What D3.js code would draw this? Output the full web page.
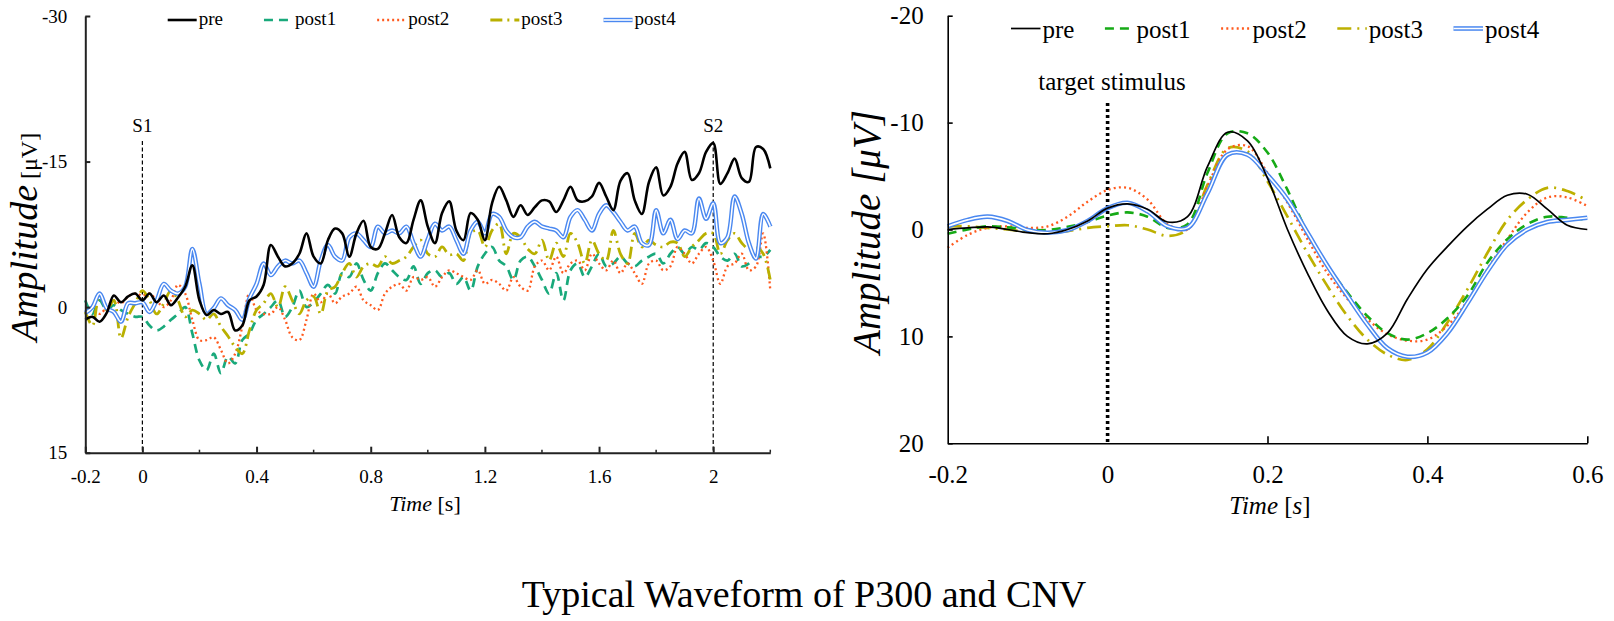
<!DOCTYPE html>
<html><head><meta charset="utf-8">
<script src="https://cdn.jsdelivr.net/npm/d3@7"></script>
<style>
body{margin:0;background:#fff}
svg{display:block}
text{font-family:"Liberation Serif","Times New Roman",serif;fill:#000}
</style>
</head><body>
<svg id="c" width="1614" height="621"></svg>
<script>
// ---------------- data ----------------
const seriesNames = ["pre","post1","post2","post3","post4"];

// CNV (left panel), time in s, amplitude in µV (negative up)
const cnvTime = [-0.2,-0.175,-0.15,-0.125,-0.1,-0.075,-0.05,-0.025,0,0.025,0.05,0.075,0.1,0.125,0.15,0.175,0.2,0.225,0.25,0.275,0.3,0.325,0.35,0.375,0.4,0.425,0.45,0.475,0.5,0.525,0.55,0.575,0.6,0.625,0.65,0.675,0.7,0.725,0.75,0.775,0.8,0.825,0.85,0.875,0.9,0.925,0.95,0.975,1.0,1.025,1.05,1.075,1.1,1.125,1.15,1.175,1.2,1.225,1.25,1.275,1.3,1.325,1.35,1.375,1.4,1.425,1.45,1.475,1.5,1.525,1.55,1.575,1.6,1.625,1.65,1.675,1.7,1.725,1.75,1.775,1.8,1.825,1.85,1.875,1.9,1.925,1.95,1.975,2.0,2.025,2.05,2.075,2.1,2.125,2.15,2.175,2.2];
const cnvPre = [1.3,1,1.5,0.6,-1.2,-0.5,-1.1,-1.4,-0.7,-1.4,
 -0.5,-1.2,-0.2,-1,-2.1,-4.3,-0.7,0.8,0.3,0.7,
 0.5,2.4,1.9,-0.7,-1.1,-2.3,-6.4,-5.2,-4.2,-4.5,
 -5.5,-7.6,-5.2,-4.5,-6.9,-8.1,-7.6,-5.2,-7.6,-8.9,
 -6.2,-6,-7.6,-9.5,-7.2,-6.6,-9,-11,-8.3,-6.6,
 -9.7,-10.9,-7.9,-6.9,-9.7,-9,-6.9,-10.7,-12.4,-11,
 -9.3,-10.5,-9.5,-10.3,-11,-10.9,-9.8,-11,-12.4,-11,
 -10.9,-11.4,-12.8,-11.4,-10,-13,-13.8,-11,-9.6,-12.9,
 -14.4,-11.5,-12.4,-14.8,-16,-13.1,-13.8,-16,-16.9,-12.7,
 -13.8,-15.3,-13.3,-12.9,-16.5,-16.3,-14.3];
const cnvPost1 = [-0.7,0.7,-0.7,0.3,-0.2,0.3,0.7,1,1,1.9,
 2.4,2,1.3,0.7,0,2.7,5.5,6.5,4.8,6.8,
 5.1,5.8,3.4,2.7,1.3,0.7,0,-0.7,1,0,
 -1.7,0,-0.5,-1.4,-2.3,-1.4,-3.5,-3.1,-4.5,-2.8,
 -1.7,-3.5,-4.5,-3.8,-3.1,-2.8,-4.2,-2.4,-3.5,-3.8,
 -3.1,-3.5,-2.4,-3.1,-1.7,-4.2,-5.5,-6.2,-4.8,-4.2,
 -2.8,-4.8,-5.2,-4.2,-2.8,-1.4,-3.5,-0.7,-3.8,-4.5,
 -3.1,-4.2,-5.5,-4.2,-4.5,-5.2,-4.5,-4.2,-4.8,-5.2,
 -5.5,-4.5,-5.5,-6.2,-5.5,-6.2,-5.9,-6.6,-6.2,-5.2,
 -4.8,-5.5,-4.2,-4.5,-5.2,-5.2,-5.9];
const cnvPost2 = [0,0.3,0.7,0,-0.7,-0.4,-1.1,-1.4,-1.2,-1.4,
 -0.7,0,-0.7,-2.3,-1.4,1.3,3.4,3.4,3.1,4.4,
 5.8,4.8,2,-1.4,0.3,0.7,0.7,0,1.3,3.1,
 3.4,1.3,-1.4,-0.5,-1.4,-0.4,-1.1,-1.4,-2.1,-0.7,
 -0.2,0.3,-1.4,-2.1,-2.4,-1.7,-3.1,-2.8,-3.1,-2.1,
 -3.1,-3.8,-3.5,-3.1,-2.8,-3.8,-2.4,-2.8,-2.4,-1.7,
 -3.1,-2.1,-1.7,-4.2,-4.8,-3.8,-5.2,-3.5,-4.5,-4.8,
 -3.8,-5.5,-4.5,-3.8,-4.8,-3.5,-4.5,-3.5,-2.4,-4.5,
 -4.8,-3.8,-4.2,-6.2,-5.5,-4.5,-5.5,-6.2,-4.8,-2.4,
 -4.2,-4.5,-5.5,-3.8,-4.2,-7.6,-1.7];
const cnvPost3 = [0.5,1.9,-1.4,0.3,-0.7,3.2,1,-0.4,-1.7,-0.7,
 0.7,-0.4,-1.7,-0.7,1,0.3,0.7,1.3,0.7,2,
 3,4.1,4.8,2.4,0.3,-0.4,-1.4,0,-2.1,-0.7,
 0.7,-0.7,-1.1,0.7,-1.7,-2.1,-3.5,-4.5,-3.1,-4.2,
 -4.5,-4.2,-5.2,-4.5,-4.8,-5.2,-6.2,-6.9,-5.5,-5.2,
 -6.2,-5.4,-5.5,-4.8,-7.6,-7.9,-6.2,-7.9,-8.6,-5.5,
 -7.6,-7.2,-6,-5.5,-6.9,-4.8,-6.6,-5.2,-7.6,-6.6,
 -4.5,-6.9,-5.5,-4.8,-7.9,-5.5,-4.5,-7.6,-6.2,-6.9,
 -6.4,-6.2,-6.7,-6.6,-5.2,-6.2,-6.9,-7.6,-7.6,-5.5,
 -6.9,-7.6,-6.6,-6,-6.2,-5.5,-2.8];
const cnvPost4 = [0.6,0,-1.4,0.1,0.5,1.5,-0.4,-0.4,-0.5,0.5,
 -0.7,-2.4,-1.7,-1.4,-2.1,-6,-2.4,0.7,0.1,-0.9,
 -0.2,0.3,1.3,-0.9,-2.4,-4.5,-3.3,-4.2,-4.8,-4.5,
 -4.8,-3.5,-2.1,-4.8,-6.4,-5.2,-4.8,-7.2,-7.6,-6.9,
 -6.2,-8.3,-7.6,-7.9,-7.6,-8.3,-6.6,-5.2,-7,-8.6,
 -7.9,-8.3,-6.9,-5.5,-7.9,-8.8,-7.6,-9.6,-9.3,-7.9,
 -7.2,-7.2,-8.3,-8.8,-8.3,-8.1,-7.9,-7.2,-9.3,-10,
 -9,-7.9,-9.6,-10.5,-9.8,-8.8,-7.9,-8.3,-6.6,-6.4,
 -10,-7.6,-9,-7,-7.9,-7.6,-11.2,-9.1,-10.7,-6.6,
 -7.2,-11.4,-9.6,-6.6,-5,-9.6,-8.3];

// P300 (right panel)
const p300Time = [-0.2,-0.175,-0.15,-0.125,-0.1,-0.075,-0.05,-0.025,0,0.025,0.05,0.075,0.1,0.125,0.15,0.175,0.2,0.225,0.25,0.275,0.3,0.325,0.35,0.375,0.4,0.425,0.45,0.475,0.5,0.525,0.55,0.575,0.6];
const p300Pre   = [0,-0.15,-0.25,0,0.3,0.4,0,-0.8,-2,-2.4,-1.9,-0.7,-1.2,-5.9,-9.1,-8.3,-4.8,0,4.1,7.6,10,10.7,9.7,6.5,3.7,1.6,-0.3,-1.9,-3.2,-3.3,-1.9,-0.4,0];
const p300Post1 = [0.4,0,-0.3,-0.2,0,0.05,-0.25,-0.7,-1.3,-1.6,-1.2,-0.15,-0.5,-5.3,-9,-9,-7.2,-3.7,0.3,3.4,5.9,8.1,9.7,10.3,9.7,8.3,6.2,3.1,0.9,-0.5,-1.2,-1.1,-0.9];
const p300Post2 = [1.7,0.5,-0.15,-0.3,-0.15,-0.3,-1.2,-2.6,-3.7,-3.9,-2.8,-0.5,0,-4.1,-7.5,-7.8,-5.3,-2.5,0.9,4.1,6.5,8.4,9.8,10.4,10.3,9,6.7,3.7,0.9,-1.6,-3,-3,-2.2];
const p300Post3 = [-0.3,-0.3,-0.15,0,0.2,0.3,0.15,-0.15,-0.3,-0.4,0,0.6,0,-4.2,-7.6,-7.3,-4.5,-1.2,2.2,5.3,8.1,10.3,11.7,12.2,11.2,8.7,5.6,2.2,-0.9,-2.8,-3.9,-3.6,-2.7];
const p300Post4 = [-0.3,-0.9,-1.2,-0.8,0.05,0.3,0.05,-0.8,-2,-2.5,-1.7,-0.3,-0.15,-3.4,-7,-7,-5.1,-2.8,0.3,3.4,6.2,8.9,11.1,11.9,11.5,9.7,6.9,3.9,1.4,0,-0.7,-0.9,-1.1];

const cnvXTicks = [-0.2,0,0.4,0.8,1.2,1.6,2];
const cnvXMinor = [0.2,0.6,1.0,1.4,1.8,2.2];
const cnvYTicks = [-30,-15,0,15];
const p300XTicks = [0.2,0.4,0.6];
const p300XLabels = [-0.2,0,0.2,0.4,0.6];
const p300YTicks = [-20,-10,0,10,20];
const eventLabelsCnv = [{t:0,label:"S1"},{t:2,label:"S2"}];

// ---------------- drawing ----------------
const svg = d3.select("#c");
svg.append("rect").attr("width",1614).attr("height",621).attr("fill","#fff");

const leftStyles = {
  pre:{color:"#000",width:2.6,dash:null},
  post1:{color:"#19a97b",width:2.7,dash:"9,6"},
  post2:{color:"#ff5a1e",width:2.3,dash:"2,3"},
  post3:{color:"#b9b000",width:2.8,dash:"12,5,2,5"},
  post4:{color:"#4a88f0",width:4.4,inner:1.6}
};
const rightStyles = {
  pre:{color:"#000",width:1.7,dash:null},
  post1:{color:"#16aa16",width:2.6,dash:"9,6"},
  post2:{color:"#ff5a1e",width:2.3,dash:"2,3.2"},
  post3:{color:"#bdb000",width:2.7,dash:"14,6,2,6"},
  post4:{color:"#4a88f0",width:4.6,inner:1.6}
};

function drawSeries(g, xs, ys, times, vals, st){
  const pts = times.map((t,i)=>[t, vals[i]]);
  const line = d3.line().x(d=>xs(d[0])).y(d=>ys(d[1])).curve(d3.curveCatmullRom.alpha(0.5));
  const p = g.append("path").attr("d", line(pts)).attr("fill","none")
    .attr("stroke", st.color).attr("stroke-width", st.width).attr("stroke-linejoin","round");
  if(st.dash) p.attr("stroke-dasharray", st.dash);
  if(st.inner){
    g.append("path").attr("d", line(pts)).attr("fill","none")
      .attr("stroke","#fff").attr("stroke-width", st.inner);
  }
}

function drawLegend(g, x0, lineY, baseY, lineLen, gap, fs, styles){
  let x = x0;
  seriesNames.forEach(n=>{
    const st = styles[n];
    const l = g.append("line").attr("x1",x).attr("x2",x+lineLen).attr("y1",lineY).attr("y2",lineY)
      .attr("stroke",st.color).attr("stroke-width",st.width);
    if(st.dash) l.attr("stroke-dasharray", st.dash);
    if(st.inner) g.append("line").attr("x1",x).attr("x2",x+lineLen).attr("y1",lineY).attr("y2",lineY)
      .attr("stroke","#fff").attr("stroke-width",st.inner);
    const t = g.append("text").attr("x",x+lineLen+2).attr("y",baseY).attr("font-size",fs).text(n);
    x = x + lineLen + 2 + t.node().getComputedTextLength() + gap;
  });
}

function styleAxis(g, fs, color, w){
  g.attr("font-family",null).attr("font-size",null);
  g.selectAll("text").attr("font-size",fs).attr("fill","#000");
  g.select(".domain").attr("stroke",color).attr("stroke-width",w);
  g.selectAll(".tick line").attr("stroke",color).attr("stroke-width",w);
}

// ===== Left panel (CNV) =====
const xL = d3.scaleLinear().domain([-0.2,2.2]).range([85.3,770.3]);
const yL = d3.scaleLinear().domain([-30,15]).range([16,452.7]);
const gL = svg.append("g");
const fsL = 19;

eventLabelsCnv.forEach(e=>{
  gL.append("line").attr("x1",xL(e.t)).attr("x2",xL(e.t)).attr("y1",141).attr("y2",yL(15))
    .attr("stroke","#000").attr("stroke-width",1.2).attr("stroke-dasharray","4,2.5");
  gL.append("text").attr("x",xL(e.t)).attr("y",132).attr("text-anchor","middle").attr("font-size",fsL).text(e.label);
});

const cnvData = {pre:cnvPre,post1:cnvPost1,post2:cnvPost2,post3:cnvPost3,post4:cnvPost4};
["post1","post2","post3","post4","pre"].forEach(n=>drawSeries(gL,xL,yL,cnvTime,cnvData[n],leftStyles[n]));

const axXL = gL.append("g").attr("transform",`translate(0,${yL(15)})`)
  .call(d3.axisBottom(xL).tickValues(cnvXTicks).tickSize(-6).tickSizeOuter(0).tickPadding(16.5).tickFormat(d=>String(d)));
styleAxis(axXL, fsL, "#222", 2);
gL.append("g").attr("transform",`translate(0,${yL(15)})`).selectAll("line").data(cnvXMinor).join("line")
  .attr("x1",d=>xL(d)).attr("x2",d=>xL(d)).attr("y1",0).attr("y2",-3).attr("stroke","#222").attr("stroke-width",1.5);
const axYL = gL.append("g").attr("transform",`translate(${xL(-0.2)},0)`)
  .call(d3.axisLeft(yL).tickValues(cnvYTicks).tickSize(-5).tickSizeOuter(0).tickPadding(18).tickFormat(d=>String(d)));
styleAxis(axYL, fsL, "#222", 2);

drawLegend(gL, 167.7, 20, 25, 29, 41, fsL, leftStyles);

const xtL = gL.append("text").attr("x",425).attr("y",511).attr("text-anchor","middle").attr("font-size",22);
xtL.append("tspan").attr("font-style","italic").text("Time");
xtL.append("tspan").text(" [s]");
const ytL = gL.append("text").attr("transform",`translate(37,237) rotate(-90)`).attr("text-anchor","middle");
ytL.append("tspan").attr("font-style","italic").attr("font-size",38).text("Amplitude");
ytL.append("tspan").attr("font-size",24).text(" [μV]");

// ===== Right panel (P300) =====
const xR = d3.scaleLinear().domain([-0.2,0.6]).range([947.7,1587.3]);
const yR = d3.scaleLinear().domain([-20,20]).range([15.7,443.3]);
const gR = svg.append("g");
const fsR = 25;

gR.append("line").attr("x1",xR(0)).attr("x2",xR(0)).attr("y1",103).attr("y2",yR(20))
  .attr("stroke","#000").attr("stroke-width",3.6).attr("stroke-dasharray","3,3");
gR.append("text").attr("x",1112).attr("y",90).attr("text-anchor","middle").attr("font-size",fsR).text("target stimulus");

const p300Data = {pre:p300Pre,post1:p300Post1,post2:p300Post2,post3:p300Post3,post4:p300Post4};
["post3","post2","post1","post4","pre"].forEach(n=>drawSeries(gR,xR,yR,p300Time,p300Data[n],rightStyles[n]));

const axXR = gR.append("g").attr("transform",`translate(0,${yR(20)})`)
  .call(d3.axisBottom(xR).tickValues(p300XLabels).tickSize(-7).tickSizeOuter(0).tickPadding(22).tickFormat(d=>String(d)));
styleAxis(axXR, fsR, "#000", 1.6);
axXR.selectAll(".tick line").filter(d=>!p300XTicks.includes(d)).remove();
const axYR = gR.append("g").attr("transform",`translate(${xR(-0.2)},0)`)
  .call(d3.axisLeft(yR).tickValues(p300YTicks).tickSize(-5).tickSizeOuter(0).tickPadding(24).tickFormat(d=>String(d)));
styleAxis(axYR, fsR, "#000", 1.6);

drawLegend(gR, 1011, 28.5, 37.5, 29.5, 30.5, fsR, rightStyles);

const xtR = gR.append("text").attr("x",1270).attr("y",514).attr("text-anchor","middle").attr("font-size",25);
xtR.append("tspan").attr("font-style","italic").text("Time");
xtR.append("tspan").text(" [");
xtR.append("tspan").attr("font-style","italic").text("s");
xtR.append("tspan").text("]");
gR.append("text").attr("transform",`translate(880,232) rotate(-90)`).attr("text-anchor","middle")
  .attr("font-size",39).attr("font-style","italic").text("Amplitude [μV]");

// ===== Main title =====
svg.append("text").attr("x",804).attr("y",607).attr("text-anchor","middle").attr("font-size",38)
  .text("Typical Waveform of P300 and CNV");
</script>
</body></html>
